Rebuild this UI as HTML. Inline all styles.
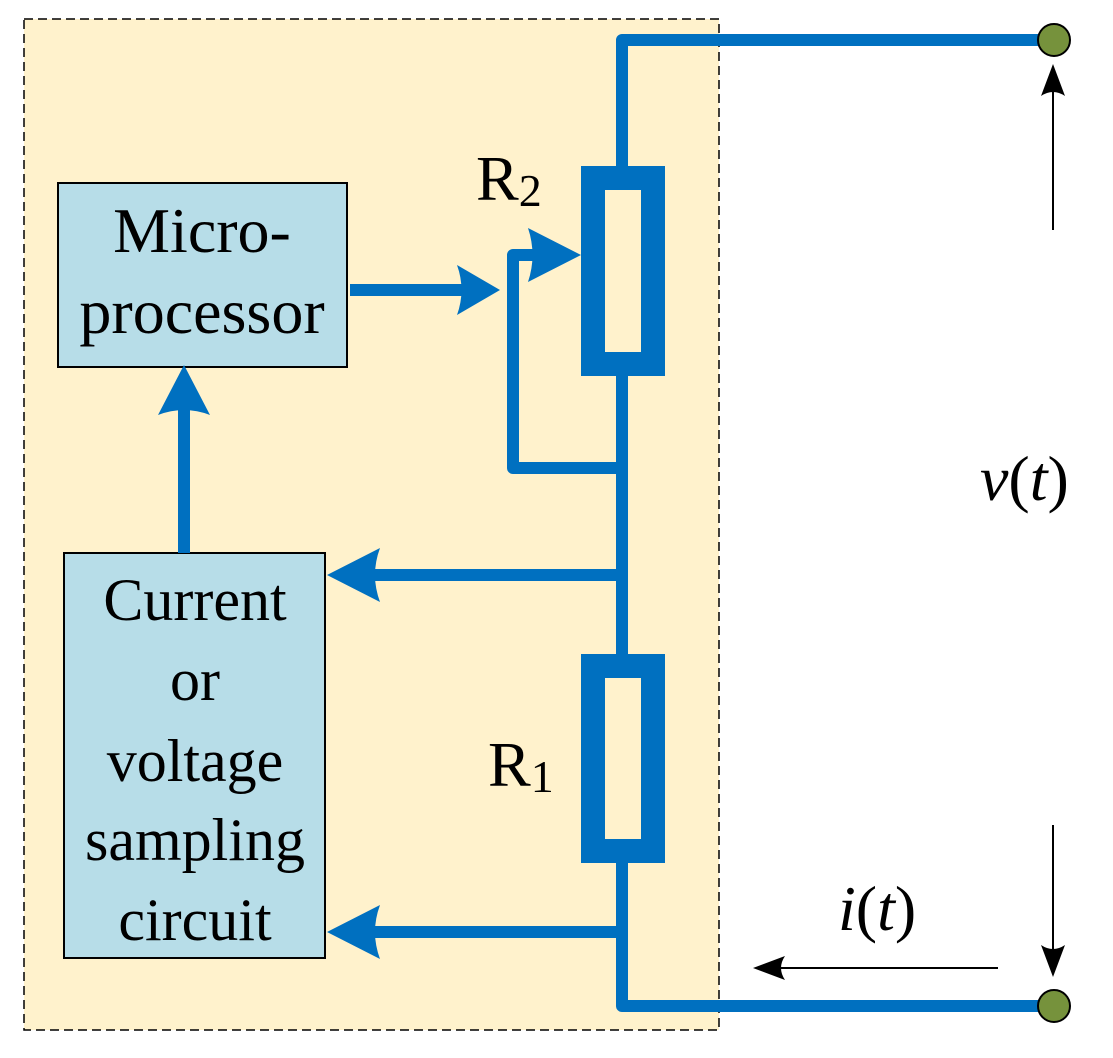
<!DOCTYPE html>
<html><head><style>
html,body{margin:0;padding:0;background:#fff;}
svg{display:block;}
svg text{font-family:"Liberation Serif","Times New Roman","DejaVu Serif",serif;fill:#000;}
</style></head><body>
<svg width="1113" height="1058" viewBox="0 0 1113 1058" xmlns="http://www.w3.org/2000/svg" font-family="Liberation Serif, serif">
<rect x="24" y="19" width="695" height="1011" fill="#FFF2CC" stroke="#000" stroke-width="1.5" stroke-dasharray="9,5"/>
<rect x="58" y="183" width="289" height="184" fill="#B7DDE8" stroke="#000" stroke-width="2"/>
<text x="202" y="252" font-size="64" text-anchor="middle">Micro-</text>
<text x="202" y="333" font-size="64" text-anchor="middle">processor</text>
<rect x="64" y="553" width="261" height="405" fill="#B7DDE8" stroke="#000" stroke-width="2"/>
<text x="195" y="620" font-size="60" text-anchor="middle">Current</text>
<text x="195" y="700" font-size="60" text-anchor="middle">or</text>
<text x="195" y="781" font-size="60" text-anchor="middle">voltage</text>
<text x="195" y="860" font-size="60" text-anchor="middle">sampling</text>
<text x="195" y="940" font-size="60" text-anchor="middle">circuit</text>
<g stroke="#0070C0" stroke-width="12" fill="none" stroke-linejoin="round">
<polyline points="1052,40 622,40 622,170"/>
<polyline points="622,372 622,660"/>
<polyline points="622,858 622,1006 1052,1006"/>
<polyline points="622,468 513,468 513,255 540,255"/>
<line x1="622" y1="575" x2="360" y2="575"/>
<line x1="622" y1="932" x2="360" y2="932"/>
<line x1="350" y1="290" x2="470" y2="290"/>
<line x1="184" y1="553" x2="184" y2="400"/>
</g>
<rect x="593" y="178" width="60" height="186" fill="none" stroke="#0070C0" stroke-width="24"/>
<rect x="593" y="666" width="60" height="185" fill="none" stroke="#0070C0" stroke-width="24"/>
<g fill="#0070C0">
<path d="M500,290 L457,265 Q466,290 457,315 Z"/>
<path d="M581,255 L528,228 Q537,255 528,282 Z"/>
<path d="M327,575 L380,548 Q370,575 380,602 Z"/>
<path d="M327,932 L380,905 Q370,932 380,959 Z"/>
<path d="M184,365 L158,415 Q184,405 210,415 Z"/>
</g>
<circle cx="1054" cy="40" r="16" fill="#76923C" stroke="#000" stroke-width="2"/>
<circle cx="1054" cy="1006" r="16" fill="#76923C" stroke="#000" stroke-width="2"/>
<g stroke="#000" stroke-width="2">
<line x1="1053" y1="230" x2="1053" y2="85"/>
<line x1="1053" y1="825" x2="1053" y2="955"/>
<line x1="998" y1="968" x2="780" y2="968"/>
</g>
<g fill="#000">
<path d="M1053,64 L1041,96 Q1053,88 1065,96 Z"/>
<path d="M1053,977 L1041,945 Q1053,953 1065,945 Z"/>
<path d="M753,968 L785,956 Q777,968 785,980 Z"/>
</g>
<text x="476" y="200" font-size="64">R<tspan font-size="46" dy="6">2</tspan></text>
<text x="488" y="786" font-size="64">R<tspan font-size="46" dy="6">1</tspan></text>
<text x="980" y="500" font-size="64" font-style="italic">v<tspan font-style="normal">(</tspan>t<tspan font-style="normal">)</tspan></text>
<text x="838" y="930" font-size="64" font-style="italic">i<tspan font-style="normal">(</tspan>t<tspan font-style="normal">)</tspan></text>
</svg>
</body></html>
